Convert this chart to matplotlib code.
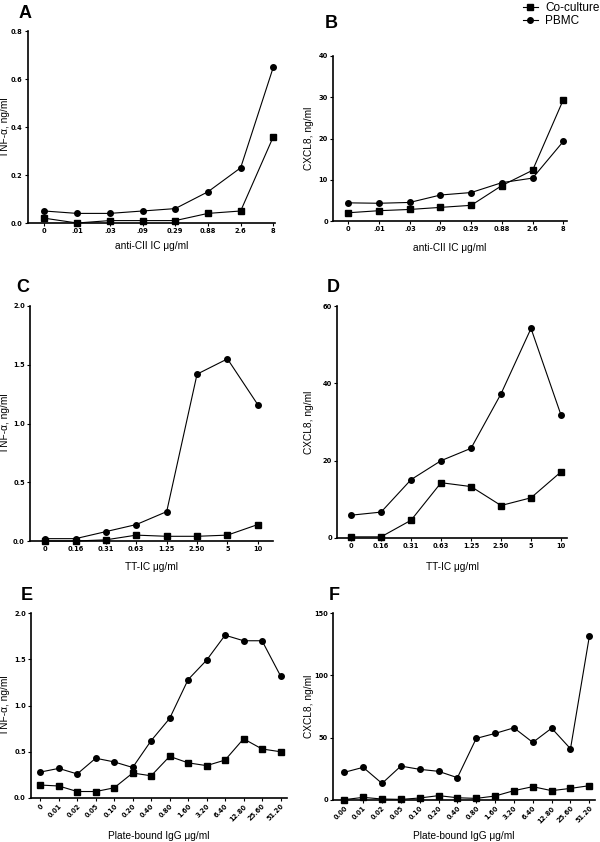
import matplotlib
matplotlib.use('Agg')
import matplotlib.pyplot as plt
from matplotlib.transforms import blended_transform_factory

plt.rcParams['font.family'] = ['Liberation Sans', 'DejaVu Sans']

# doses (categorical x axes)
dose_cii = ['0', '.01', '.03', '.09', '0.29', '0.88', '2.6', '8']
dose_tt = ['0', '0.16', '0.31', '0.63', '1.25', '2.50', '5', '10']
dose_igg_e = ['0', '0.01', '0.02', '0.05', '0.10', '0.20', '0.40', '0.80',
              '1.60', '3.20', '6.40', '12.80', '25.60', '51.20']
dose_igg_f = ['0.00', '0.01', '0.02', '0.05', '0.10', '0.20', '0.40', '0.80',
              '1.60', '3.20', '6.40', '12.80', '25.60', '51.20']

# A: TNF-a, anti-CII IC
a_cocult = [0.02, 0.0, 0.01, 0.01, 0.01, 0.04, 0.05, 0.36]
a_pbmc = [0.05, 0.04, 0.04, 0.05, 0.06, 0.13, 0.23, 0.65]
# B: CXCL8, anti-CII IC
b_cocult = [2.0, 2.5, 2.8, 3.3, 3.8, 8.6, 12.3, 29.4]
b_pbmc = [4.4, 4.3, 4.5, 6.3, 6.9, 9.3, 10.4, 19.3]
# C: TNF-a, TT-IC
c_cocult = [0.0, 0.0, 0.01, 0.05, 0.04, 0.04, 0.05, 0.14]
c_pbmc = [0.02, 0.02, 0.08, 0.14, 0.25, 1.42, 1.55, 1.16]
# D: CXCL8, TT-IC
d_cocult = [0.3, 0.3, 4.6, 14.3, 13.3, 8.4, 10.4, 17.1]
d_pbmc = [5.9, 6.7, 15.1, 20.0, 23.2, 37.3, 54.2, 31.8]
# E: TNF-a, plate-bound IgG
e_cocult = [0.14, 0.13, 0.07, 0.07, 0.11, 0.27, 0.24, 0.45, 0.38, 0.35, 0.41, 0.64, 0.53, 0.50]
e_pbmc = [0.28, 0.32, 0.26, 0.43, 0.39, 0.33, 0.62, 0.86, 1.28, 1.49, 1.76, 1.70, 1.70, 1.32]
# F: CXCL8, plate-bound IgG
f_cocult = [0.3, 2.1, 0.8, 0.5, 1.6, 3.5, 1.8, 1.3, 3.2, 7.5, 10.7, 7.5, 9.3, 11.5]
f_pbmc = [22.2, 26.2, 13.3, 27.2, 24.6, 23.0, 17.9, 49.4, 53.4, 57.9, 46.2, 57.6, 41.1, 131.3]

W, H = 600, 842
fig = plt.figure(figsize=(6, 8.42), dpi=100)
tick_font = dict(family='DejaVu Sans', size=4.8, weight='bold')


def make_ax(l, r, t, b):
    return fig.add_axes([l / W, (H - b) / H, (r - l) / W, (b - t) / H])


def panel(ax, labels, co, pb, ymax, ystep, ylabel, xlabel, xlim, letter, letter_xy,
          ylab_x, xlab_y, rot=False, yfmt='{:.1f}'):
    x = list(range(len(labels)))
    ax.plot(x, co, '-s', color='black', lw=0.8, ms=4, label='Co-culture', clip_on=False, zorder=3)
    ax.plot(x, pb, '-o', color='black', lw=0.8, ms=4, label='PBMC', clip_on=False, zorder=3)
    ax.set_xlim(*xlim)
    ax.set_ylim(0, ymax)
    yt = [i * ystep for i in range(int(round(ymax / ystep)) + 1)]
    ax.set_yticks(yt)
    ax.set_yticklabels([yfmt.format(v) for v in yt], fontdict=tick_font)
    ax.set_xticks(x)
    if rot:
        ax.set_xticklabels(labels, fontdict=tick_font, rotation=45,
                           ha='right', rotation_mode='anchor')
    else:
        ax.set_xticklabels(labels, fontdict=tick_font)
    for s in ['top', 'right']:
        ax.spines[s].set_visible(False)
    for s in ['left', 'bottom']:
        ax.spines[s].set_linewidth(1.2)
    ax.tick_params(axis='both', direction='out', length=2.2, width=0.8, pad=1.5)
    ax.set_ylabel(ylabel, fontsize=7.3)
    ax.yaxis.set_label_coords(ylab_x / W, 0.5,
                              transform=blended_transform_factory(fig.transFigure, ax.transAxes))
    ax.yaxis.label.set_va('center')
    ax.set_xlabel(xlabel, fontsize=7.3)
    ax.xaxis.set_label_coords(0.5, 1 - xlab_y / H,
                              transform=blended_transform_factory(ax.transAxes, fig.transFigure))
    ax.xaxis.label.set_va('center')
    fig.text(letter_xy[0] / W, 1 - letter_xy[1] / H, letter, fontsize=13,
             fontweight='bold', ha='center', va='center')


axA = make_ax(28, 275, 31, 223)
panel(axA, dose_cii, a_cocult, a_pbmc, 0.8, 0.2, 'TNF-α, ng/ml', 'anti-CII IC μg/ml',
      (-0.5, 7.05), 'A', (25, 14), 5, 246)

axB = make_ax(333, 567, 56, 221)
panel(axB, dose_cii, b_cocult, b_pbmc, 40, 10, 'CXCL8, ng/ml', 'anti-CII IC μg/ml',
      (-0.5, 7.12), 'B', (331, 23), 309, 248, yfmt='{:.0f}')

axC = make_ax(30, 273, 306, 541)
panel(axC, dose_tt, c_cocult, c_pbmc, 2.0, 0.5, 'TNF-α, ng/ml', 'TT-IC μg/ml',
      (-0.5, 7.5), 'C', (23, 287), 5, 567)

axD = make_ax(337, 567, 306, 538)
panel(axD, dose_tt, d_cocult, d_pbmc, 60, 20, 'CXCL8, ng/ml', 'TT-IC μg/ml',
      (-0.47, 7.2), 'D', (333, 288), 309, 567, yfmt='{:.0f}')

axE = make_ax(31, 287, 613, 798)
panel(axE, dose_igg_e, e_cocult, e_pbmc, 2.0, 0.5, 'TNF-α, ng/ml', 'Plate-bound IgG μg/ml',
      (-0.5, 13.35), 'E', (27, 595), 5, 836, rot=True)

axF = make_ax(333, 595, 613, 800)
panel(axF, dose_igg_f, f_cocult, f_pbmc, 150, 50, 'CXCL8, ng/ml', 'Plate-bound IgG μg/ml',
      (-0.6, 13.3), 'F', (334, 595), 309, 836, rot=True, yfmt='{:.0f}')

handles, labs = axB.get_legend_handles_labels()
fig.legend(handles, labs, loc='upper left', bbox_to_anchor=(518 / W, 1.003),
           frameon=False, fontsize=8.5, handlelength=1.3, handletextpad=0.6,
           labelspacing=0.05, borderaxespad=0)

fig.savefig('out.png', dpi=100)
